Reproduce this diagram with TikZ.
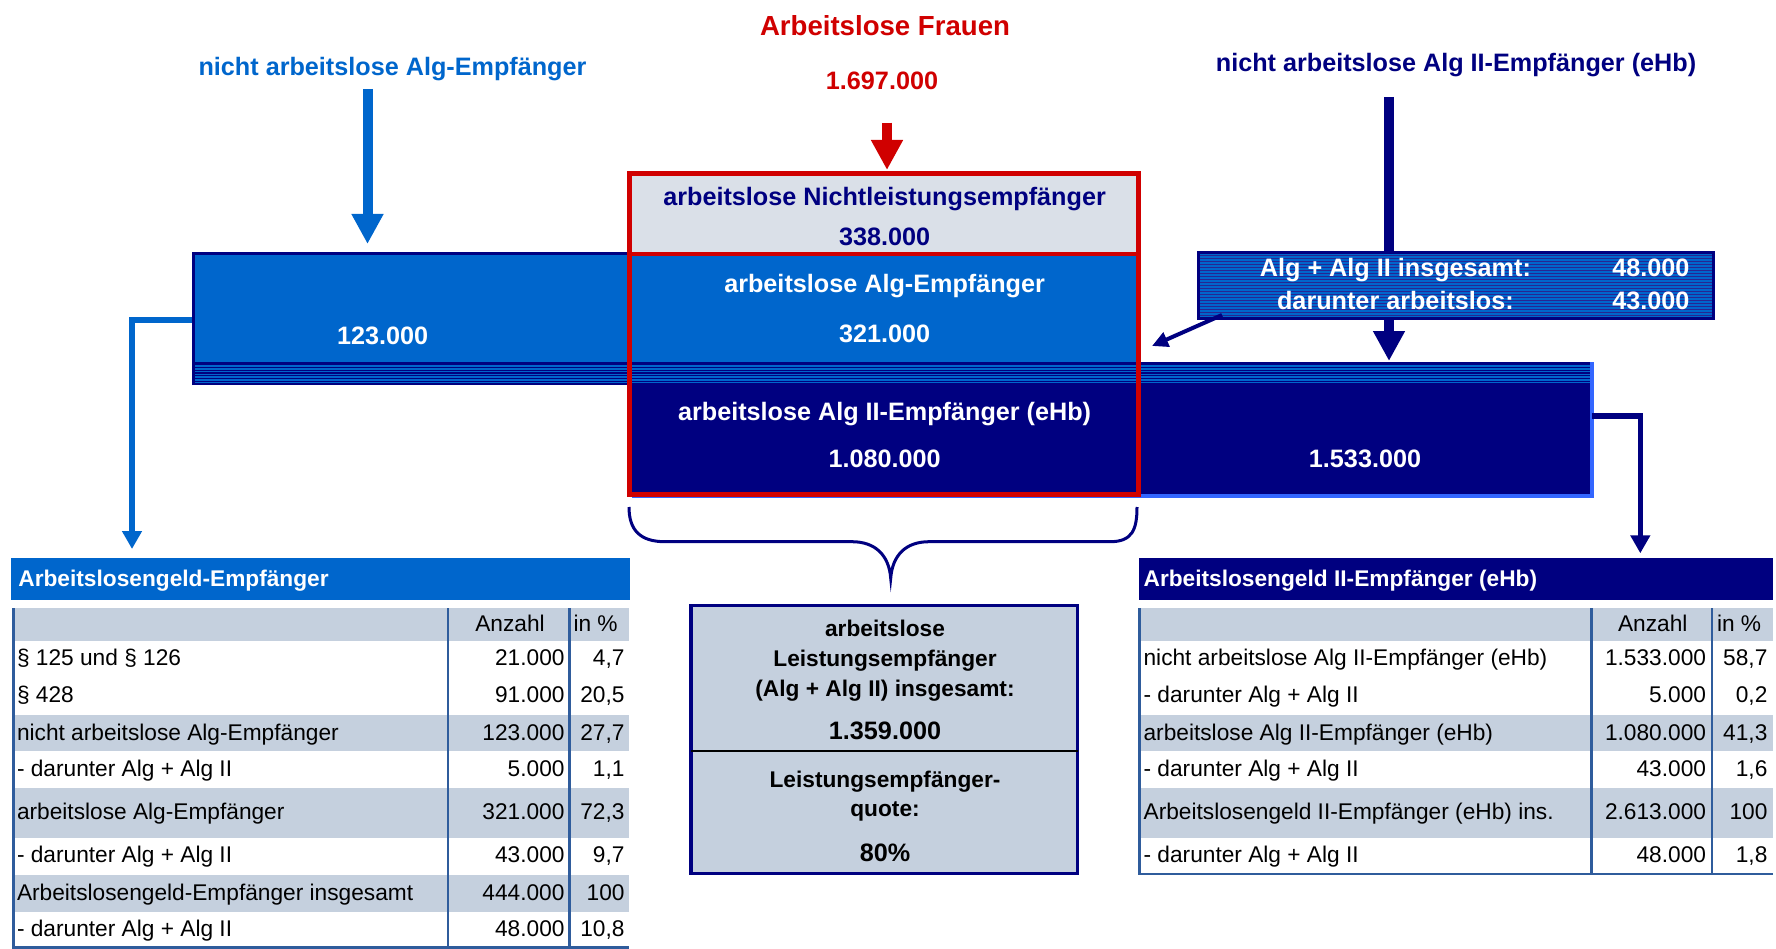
\documentclass[tikz,border=0pt]{standalone}
\usepackage{fontspec}
\setmainfont{Liberation Sans}
\usetikzlibrary{arrows.meta}
\definecolor{algblue}{HTML}{0066CC}
\definecolor{navy}{HTML}{000080}
\definecolor{redc}{HTML}{D00000}
\definecolor{lgray}{HTML}{DAE0E8}
\definecolor{tgray}{HTML}{C5D0DE}
\definecolor{tline}{HTML}{2F5C9C}
\definecolor{brightblue}{HTML}{3366FF}
\begin{document}
\begin{tikzpicture}[x=1pt,y=-1pt,
  every node/.style={inner sep=0pt,outer sep=0pt},
  tt/.style={font=\fontsize{25.2}{30}\selectfont\bfseries, anchor=base},
  cb/.style={font=\fontsize{22.7}{27}\selectfont\bfseries, anchor=base},
  hb/.style={font=\fontsize{22.7}{27}\selectfont\bfseries, text=white, anchor=base west},
  tb/.style={font=\fontsize{22.7}{27}\selectfont, anchor=base west},
  tn/.style={font=\fontsize{22.7}{27}\selectfont, anchor=base east},
  bigarrow/.style={line width=10pt, -{Triangle[width=30pt,length=30pt]}},
  elbow/.style={line width=6pt, -{Triangle[width=19pt,length=18pt]}},
  tabline/.style={tline, line width=2.5pt}
]
\useasboundingbox (0,0) rectangle (1776,949);

% ---------- titles ----------
\node[tt, text=algblue] (tAlg) at (392.5,76) {nicht arbeitslose Alg-Empfänger};
\node[tt, text=redc, font=\fontsize{27.6}{33}\selectfont\bfseries] (tFr) at (885,35.7) {Arbeitslose Frauen};
\node[tt, text=redc] (tFrN) at (882,90) {1.697.000};
\node[tt, text=navy] (tAlg2) at (1456,71.7) {nicht arbeitslose Alg II-Empfänger (eHb)};

% ---------- bars ----------
\node[fill=algblue, anchor=north west, minimum width=946pt, minimum height=132pt] (algbar) at (192,252) {};
\node[fill=navy, anchor=north west, minimum width=960pt, minimum height=134pt] (alg2bar) at (632,362) {};
\draw[brightblue, line width=3.5pt] (alg2bar.north east) -- (alg2bar.south east) -- (alg2bar.south west);
% striped overlap band
\fill[algblue] (192,362) rectangle (1590,384);
\fill[navy] (192,361.5) rectangle (1590,364.5);
\foreach \k in {0,...,6} \fill[navy] (192,{366.8+\k*2.75}) rectangle (1590,{368.1+\k*2.75});
\fill[navy] (192,382.5) rectangle (632,385);
\draw[navy, line width=3pt] (193.5,385) -- (193.5,253.5) -- (632,253.5);

% light gray top part
\fill[lgray] (632,176) rectangle (1136,252);

% ---------- red frame ----------
\node[draw=redc, line width=5pt, minimum width=508.4pt, minimum height=320pt] (redbox) at (883.8,334) {};
\draw[redc, line width=4pt] (redbox.west |- 0,253.7) -- (redbox.east |- 0,253.7);

% texts in bars
\node[tt, text=white] (n123) at (382.7,344) {123.000};
\node[tt, text=navy] (tNL) at (884.6,206) {arbeitslose Nichtleistungsempfänger};
\node[tt, text=navy] (nNL) at (884.6,245.7) {338.000};
\node[tt, text=white] (tAA) at (884.6,292.7) {arbeitslose Alg-Empfänger};
\node[tt, text=white] (nAA) at (884.6,342.7) {321.000};
\node[tt, text=white] (tAA2) at (884.6,420.7) {arbeitslose Alg II-Empfänger (eHb)};
\node[tt, text=white] (nAA2) at (884.6,467.3) {1.080.000};
\node[tt, text=white] (n1533) at (1365,467.7) {1.533.000};

% ---------- arrows from titles ----------
\coordinate (aS) at (367.5,89);
\coordinate (aE) at (367.5,244);
\draw[algblue, bigarrow] (aS) -- (aE);
\coordinate (rS) at (887,122.7);
\coordinate (rE) at (887,170);
\draw[redc, line width=9.5pt, -{Triangle[width=30pt,length=30pt]}] (rS) -- (rE);
\coordinate (nS) at (1389,97);
\coordinate (nE) at (1389,361);
\draw[navy, bigarrow] (nS) -- (nE);

% ---------- info box ----------
\node[fill=algblue, anchor=north west, minimum width=515.5pt, minimum height=66.7pt] (info) at (1198,252.3) {};
\foreach \k in {0,...,20} \fill[navy!85] (1199,{255.2+\k*3}) rectangle (1713,{256.3+\k*3});
\draw[navy, line width=3pt] (info.north west) rectangle (info.south east);
\node[tt, text=white] (iT1) at (1395.4,276.7) {Alg + Alg II insgesamt:};
\node[tt, text=white, anchor=base east] (iN1) at (1689.5,276.7) {48.000};
\node[tt, text=white] (iT2) at (1395.4,309) {darunter arbeitslos:};
\node[tt, text=white, anchor=base east] (iN2) at (1689.5,309) {43.000};
\coordinate (iA) at (1222,315);
\coordinate (iB) at (1152,346);
\draw[navy, line width=4pt, -{Triangle[width=15pt,length=16pt]}] (iA) -- (iB);

% ---------- elbow connectors ----------
\coordinate (lT) at (132,549);
\draw[algblue, elbow] (algbar.west |- 0,320) -- (132,320) -- (lT);
\coordinate (rT) at (1640.3,553.3);
\draw[navy, line width=5.5pt, -{Triangle[width=19pt,length=18pt]}] (alg2bar.east |- 0,416) -- (1640.3,416) -- (rT);

% ---------- brace ----------
\draw[navy, line width=3pt] (629,507) .. controls (629,530) and (640,541.7) .. (665,541.7)
  -- (852,541.7) .. controls (875,541.7) and (889,555) .. (890.7,578.3)
  .. controls (892.4,555) and (906,541.7) .. (929,541.7)
  -- (1110,541.7) .. controls (1132,541.7) and (1137,530) .. (1137,507);

% ---------- center box ----------
\node[fill=tgray, draw=navy, line width=3.5pt, anchor=north west, minimum width=386.5pt, minimum height=267.6pt] (cbox) at (691,605.7) {};
\draw[black, line width=1.2pt] (cbox.west |- 0,751) -- (cbox.east |- 0,751);
\node[cb] (c1) at (885,636.7) {arbeitslose};
\node[cb] (c2) at (885,666.7) {Leistungsempfänger};
\node[cb] (c3) at (885,696.7) {(Alg + Alg II) insgesamt:};
\node[tt] (c4) at (885,739.3) {1.359.000};
\node[cb] (c5) at (885,787.3) {Leistungsempfänger-};
\node[cb] (c6) at (885,816.7) {quote:};
\node[tt] (c7) at (885,861.7) {80\%};

% ---------- left table ----------
\node[fill=algblue, anchor=north west, minimum width=618.4pt, minimum height=41.7pt] (lhead) at (11.4,558.3) {};
\node[hb] (lheadT) at (18.4,586) {Arbeitslosengeld-Empfänger};
\node[anchor=north west, minimum width=616.4pt, minimum height=339.4pt] (ltab) at (12.2,608.3) {};
\fill[tgray] (12.2,608.3) rectangle (628.6,640.7);
\fill[tgray] (12.2,714.7) rectangle (628.6,751);
\fill[tgray] (12.2,787.7) rectangle (628.6,837.5);
\fill[tgray] (12.2,874.5) rectangle (628.6,911.7);
\draw[tabline] (13.4,608.3) -- (13.4,947.7) -- (628.6,947.7);
\draw[tabline] (448.2,608.3) -- (448.2,947.7);
\draw[tabline] (569.4,608.3) -- (569.4,947.7);
\node[tb, anchor=base] (lh1) at (510,631) {Anzahl};
\node[tb] (lh2) at (573.5,631) {in \%};
\node[tb] (l1a) at (17,665.7) {§ 125 und § 126};
\node[tn] (l1b) at (564.5,665.7) {21.000};
\node[tn] (l1c) at (624.5,665.7) {4,7};
\node[tb] (l2a) at (17,702.7) {§ 428};
\node[tn] (l2b) at (564.5,702.7) {91.000};
\node[tn] (l2c) at (624.5,702.7) {20,5};
\node[tb] (l3a) at (17,740) {nicht arbeitslose Alg-Empfänger};
\node[tn] (l3b) at (564.5,740) {123.000};
\node[tn] (l3c) at (624.5,740) {27,7};
\node[tb] (l4a) at (17,776.7) {- darunter Alg + Alg II};
\node[tn] (l4b) at (564.5,776.7) {5.000};
\node[tn] (l4c) at (624.5,776.7) {1,1};
\node[tb] (l5a) at (17,819.3) {arbeitslose Alg-Empfänger};
\node[tn] (l5b) at (564.5,819.3) {321.000};
\node[tn] (l5c) at (624.5,819.3) {72,3};
\node[tb] (l6a) at (17,862.7) {- darunter Alg + Alg II};
\node[tn] (l6b) at (564.5,862.7) {43.000};
\node[tn] (l6c) at (624.5,862.7) {9,7};
\node[tb] (l7a) at (17,900) {Arbeitslosengeld-Empfänger insgesamt};
\node[tn] (l7b) at (564.5,900) {444.000};
\node[tn] (l7c) at (624.5,900) {100};
\node[tb] (l8a) at (17,936.7) {- darunter Alg + Alg II};
\node[tn] (l8b) at (564.5,936.7) {48.000};
\node[tn] (l8c) at (624.5,936.7) {10,8};

% ---------- right table ----------
\node[fill=navy, anchor=north west, minimum width=633.8pt, minimum height=41.7pt] (rhead) at (1139,558.3) {};
\node[hb] (rheadT) at (1143.6,586) {Arbeitslosengeld II-Empfänger (eHb)};
\node[anchor=north west, minimum width=634.6pt, minimum height=265.7pt] (rtab) at (1138.2,608.3) {};
\fill[tgray] (1138.2,608.3) rectangle (1772.8,640.7);
\fill[tgray] (1138.2,714.7) rectangle (1772.8,751);
\fill[tgray] (1138.2,787.7) rectangle (1772.8,837.5);
\draw[tabline] (1139.4,608.3) -- (1139.4,874) -- (1772.8,874);
\draw[tabline] (1591.5,608.3) -- (1591.5,874);
\draw[tabline] (1712.2,608.3) -- (1712.2,874);
\node[tb, anchor=base] (rh1) at (1652.7,631) {Anzahl};
\node[tb] (rh2) at (1717,631) {in \%};
\node[tb] (r1a) at (1143.6,665.7) {nicht arbeitslose Alg II-Empfänger (eHb)};
\node[tn] (r1b) at (1706,665.7) {1.533.000};
\node[tn] (r1c) at (1767.4,665.7) {58,7};
\node[tb] (r2a) at (1143.6,702.7) {- darunter Alg + Alg II};
\node[tn] (r2b) at (1706,702.7) {5.000};
\node[tn] (r2c) at (1767.4,702.7) {0,2};
\node[tb] (r3a) at (1143.6,740) {arbeitslose Alg II-Empfänger (eHb)};
\node[tn] (r3b) at (1706,740) {1.080.000};
\node[tn] (r3c) at (1767.4,740) {41,3};
\node[tb] (r4a) at (1143.6,776.7) {- darunter Alg + Alg II};
\node[tn] (r4b) at (1706,776.7) {43.000};
\node[tn] (r4c) at (1767.4,776.7) {1,6};
\node[tb] (r5a) at (1143.6,819.3) {Arbeitslosengeld II-Empfänger (eHb) ins.};
\node[tn] (r5b) at (1706,819.3) {2.613.000};
\node[tn] (r5c) at (1767.4,819.3) {100};
\node[tb] (r6a) at (1143.6,862.7) {- darunter Alg + Alg II};
\node[tn] (r6b) at (1706,862.7) {48.000};
\node[tn] (r6c) at (1767.4,862.7) {1,8};
\end{tikzpicture}
\end{document}
